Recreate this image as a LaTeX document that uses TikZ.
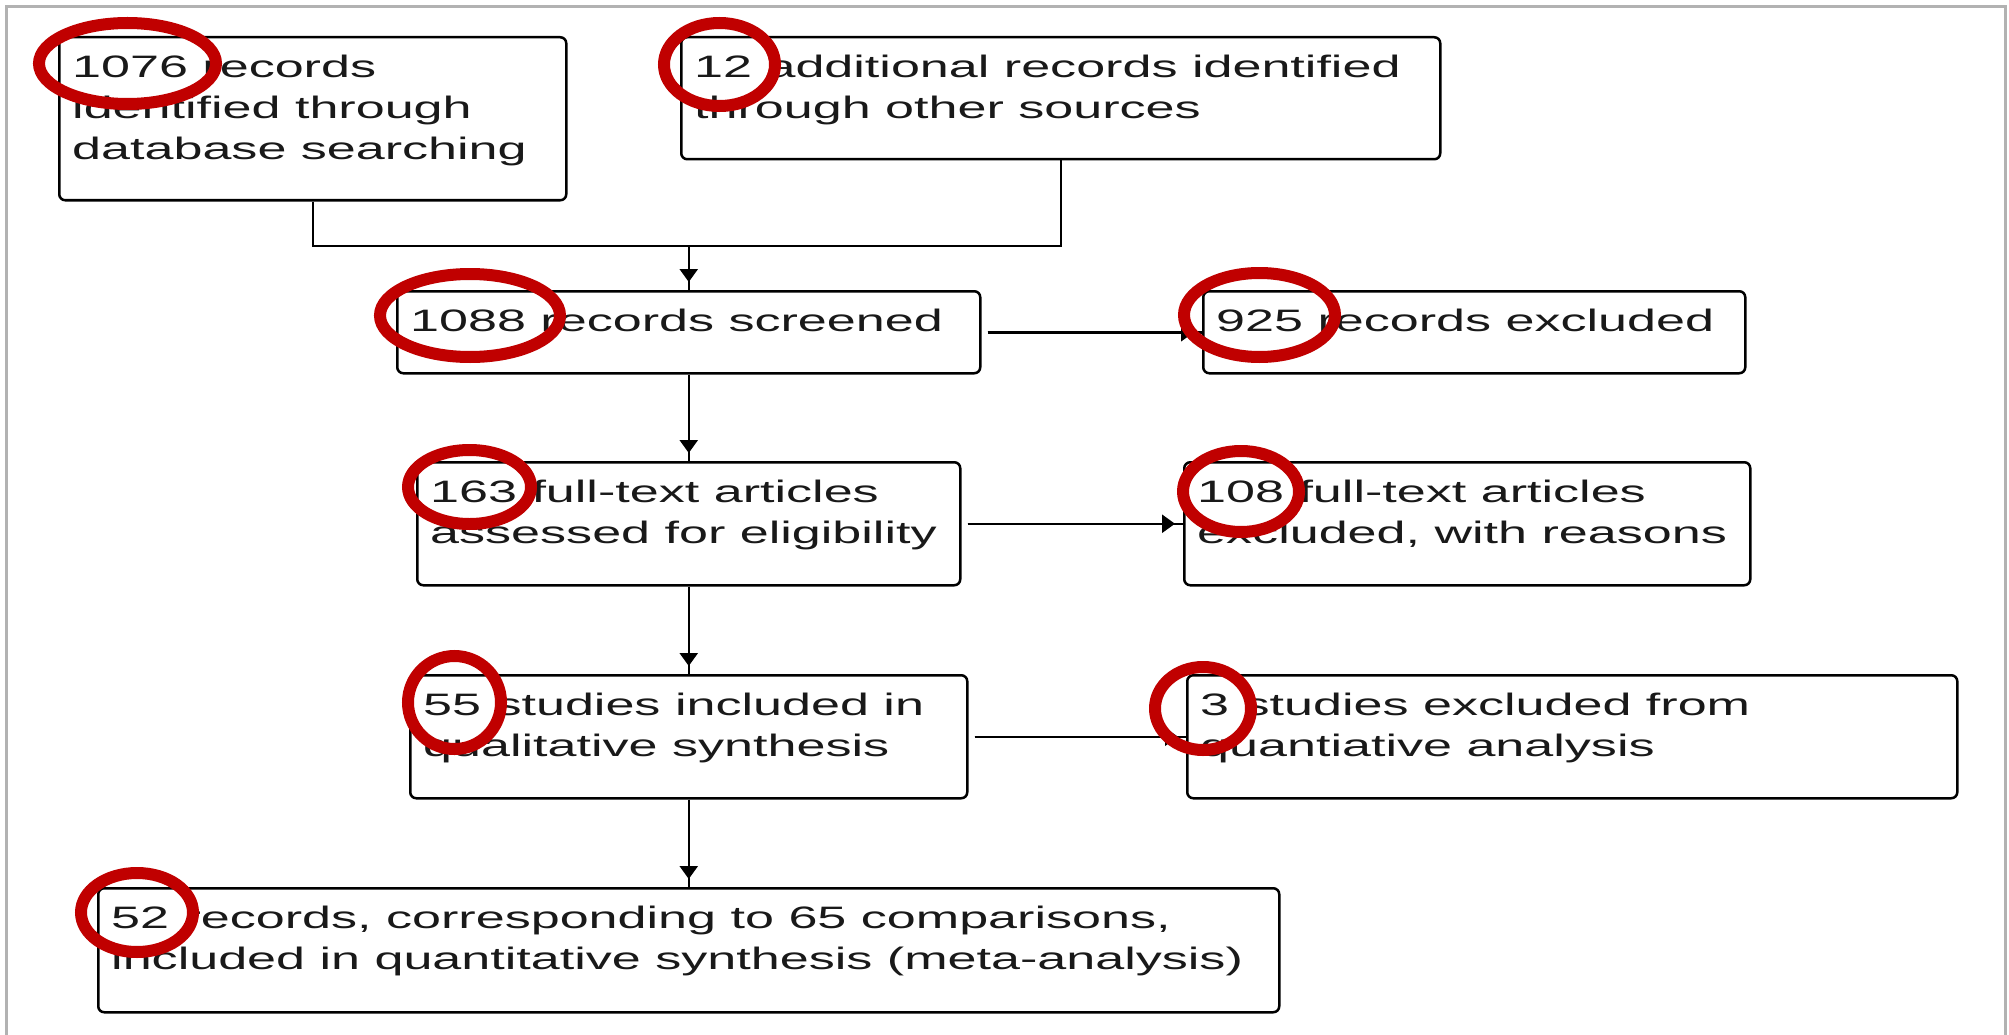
\documentclass[tikz,border=0pt]{standalone}
\usepackage{fontspec}
\usepackage{graphicx}
\setmainfont{Liberation Sans}
\usetikzlibrary{arrows.meta,calc}
\definecolor{ringred}{RGB}{192,0,0}
\definecolor{framegray}{RGB}{178,178,178}
\newcommand{\wtext}[1]{\scalebox{1.68}[1]{\fontsize{31}{41}\selectfont\begin{tabular}{@{}l@{}}#1\end{tabular}}}
\tikzset{
  box/.style={draw=black, line width=2.5pt, rounded corners=6pt, rectangle, inner sep=0pt, anchor=north west},
  txt/.style={anchor=north west, inner sep=0pt, text=black!90},
  link/.style={draw=black, line width=2.5pt},
  arr/.style={draw=black, line width=2.5pt, postaction={draw, -{Triangle[length=13pt,width=18pt]}, shorten >=8pt}},
  ring/.style={draw=ringred, line width=12pt},
}
\begin{document}
\begin{tikzpicture}[x=1pt,y=-1pt]
\useasboundingbox (0,0) rectangle (2009,1035);
\fill[white] (0,0) rectangle (2009,1035);
\draw[framegray, line width=3pt] (6.5,1036) -- (6.5,7) -- (2005,7) -- (2005,1036);

% boxes
\node[box, minimum width=507pt, minimum height=163pt] (b1) at (58,36) {};
\node[box, minimum width=759pt, minimum height=122pt] (b2) at (680,36) {};
\node[box, minimum width=583pt, minimum height=82pt] (b3) at (396,290) {};
\node[box, minimum width=542pt, minimum height=82pt] (b4) at (1202,290) {};
\node[box, minimum width=543pt, minimum height=123pt] (b5) at (416,461) {};
\node[box, minimum width=566pt, minimum height=123pt] (b6) at (1183,461) {};
\node[box, minimum width=557pt, minimum height=123pt] (b7) at (409,674) {};
\node[box, minimum width=770pt, minimum height=123pt] (b8) at (1186,674) {};
\node[box, minimum width=1181pt, minimum height=124pt] (b9) at (97,887) {};

% texts
\node[txt] (t1) at ($(b1.north west)+(14,13)$) {\wtext{1076 records\\identified through\\database searching}};
\node[txt] (t2) at ($(b2.north west)+(14,13)$) {\wtext{12 additional records identified\\through other sources}};
\node[txt] (t3) at ($(b3.north west)+(14,13)$) {\wtext{1088 records screened}};
\node[txt] (t4) at ($(b4.north west)+(14,13)$) {\wtext{925 records excluded}};
\node[txt] (t5) at ($(b5.north west)+(14,13)$) {\wtext{163 full-text articles\\assessed for eligibility}};
\node[txt] (t6) at ($(b6.north west)+(14,13)$) {\wtext{108 full-text articles\\excluded, with reasons}};
\node[txt] (t7) at ($(b7.north west)+(14,13)$) {\wtext{55 studies included in\\qualitative synthesis}};
\node[txt] (t8) at ($(b8.north west)+(14,13)$) {\wtext{3 studies excluded from\\quantiative analysis}};
\node[txt] (t9) at ($(b9.north west)+(14,13)$) {\wtext{52 records, corresponding to 65 comparisons,\\included in quantitative synthesis (meta-analysis)}};

% connectors
\coordinate (m) at (b3.north |- 0,246);
\draw[link] (b1.south) |- (m);
\draw[link] (b2.south) |- (m);
\path[arr] (m) -- (b3.north);
\path[arr, shorten <=6pt] (b3.east) -- (b4.west);
\path[arr] (b3.south) -- (b5.north);
\path[arr, shorten <=6pt] (b5.east) -- (b6.west);
\path[arr] (b5.south) -- (b7.north);
\path[arr, shorten <=6pt] (b7.east) -- (b8.west);
\path[arr] (b7.south) -- (b9.north);

% red highlight ellipses
\draw[ring] (127.5,63.5) ellipse [x radius=88.5pt, y radius=40.5pt];
\draw[ring] (719.5,64.5) ellipse [x radius=55.5pt, y radius=41.5pt];
\draw[ring] (470,315.5) ellipse [x radius=90pt, y radius=41.5pt];
\draw[ring] (1259.5,315) ellipse [x radius=75.5pt, y radius=42pt];
\draw[ring] (469.5,487) ellipse [x radius=61.5pt, y radius=37pt];
\draw[ring] (1241,491.5) ellipse [x radius=58pt, y radius=40.5pt];
\draw[ring] (454.5,702.5) ellipse [x radius=46.5pt, y radius=46.5pt];
\draw[ring] (1203,708.5) ellipse [x radius=48pt, y radius=41.5pt];
\draw[ring] (137,912.5) ellipse [x radius=56pt, y radius=39.5pt];
\end{tikzpicture}
\end{document}
